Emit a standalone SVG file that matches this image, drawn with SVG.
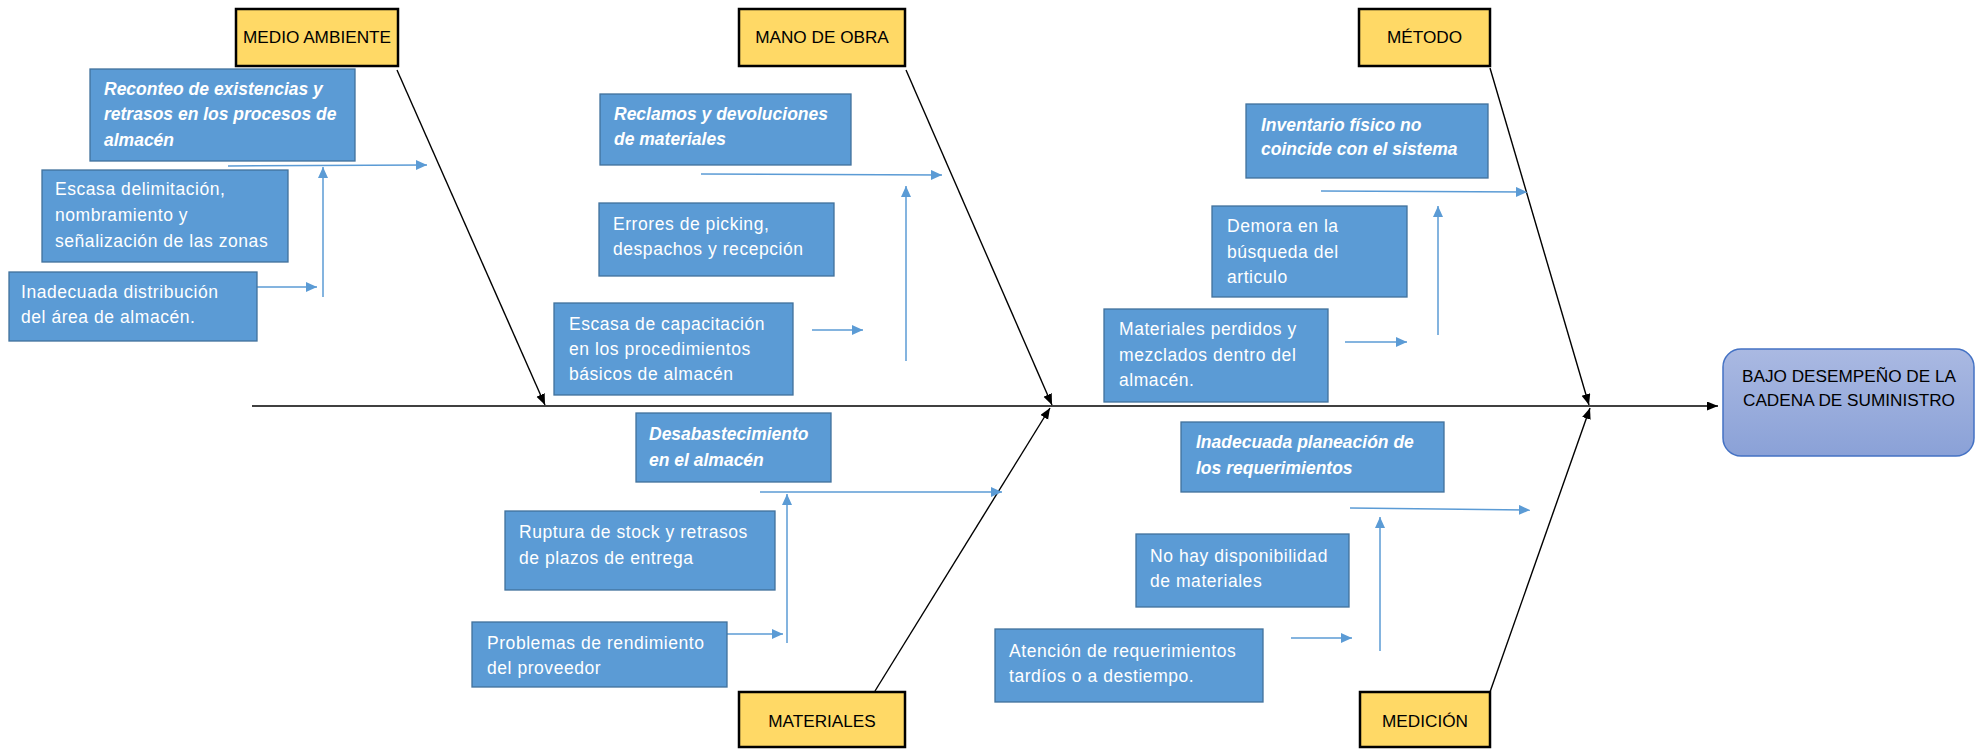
<svg xmlns="http://www.w3.org/2000/svg" width="1977" height="749" viewBox="0 0 1977 749">
<style>
.bx{fill:#5B9BD5;stroke:#41719C;stroke-width:1.3}
.cat{fill:#FFD966;stroke:#000;stroke-width:2.5}
.t{font-family:"Liberation Sans",Arial,sans-serif;font-size:17.5px;fill:#fff;letter-spacing:0.55px}
.bi{font-family:"Liberation Sans",Arial,sans-serif;font-size:17.5px;fill:#fff;font-weight:bold;font-style:italic}
.ct{font-family:"Liberation Sans",Arial,sans-serif;font-size:17.2px;fill:#000;text-anchor:middle}
.bl{stroke:#5B9BD5;stroke-width:1.5;fill:none;marker-end:url(#ab)}
.bk{stroke:#000;stroke-width:1.4;fill:none;marker-end:url(#ak)}
</style>
<defs>
<marker id="ab" markerUnits="userSpaceOnUse" markerWidth="12" markerHeight="11" refX="11" refY="5" orient="auto"><path d="M0,0 L11,5 L0,10 z" fill="#5B9BD5"/></marker>
<marker id="ak" markerUnits="userSpaceOnUse" markerWidth="12" markerHeight="10" refX="11" refY="4.5" orient="auto"><path d="M0,0 L11,4.5 L0,9 z" fill="#000"/></marker>
<linearGradient id="g" x1="0" y1="0" x2="0" y2="1"><stop offset="0" stop-color="#AAB9E2"/><stop offset="1" stop-color="#8AA1D7"/></linearGradient>
</defs>
<rect width="1977" height="749" fill="#fff"/>
<g id="connectors">
<line class="bk" x1="252" y1="406" x2="1718" y2="406" stroke-width="1.8"/>
<line class="bk" x1="397" y1="70" x2="545" y2="405"/>
<line class="bk" x1="906" y1="70" x2="1052" y2="405"/>
<line class="bk" x1="1490" y1="68" x2="1589" y2="405"/>
<line class="bk" x1="875" y1="691" x2="1050" y2="408"/>
<line class="bk" x1="1490" y1="692" x2="1590" y2="408"/>
<line class="bl" x1="228" y1="166" x2="427" y2="165"/>
<line class="bl" x1="323" y1="297" x2="323" y2="167"/>
<line class="bl" x1="257" y1="287" x2="317" y2="287"/>
<line class="bl" x1="701" y1="174" x2="942" y2="175"/>
<line class="bl" x1="906" y1="361" x2="906" y2="186"/>
<line class="bl" x1="812" y1="330" x2="863" y2="330"/>
<line class="bl" x1="1321" y1="191" x2="1527" y2="192"/>
<line class="bl" x1="1438" y1="335" x2="1438" y2="206"/>
<line class="bl" x1="1345" y1="342" x2="1407" y2="342"/>
<line class="bl" x1="760" y1="492" x2="1002" y2="492"/>
<line class="bl" x1="787" y1="643" x2="787" y2="494"/>
<line class="bl" x1="727" y1="634" x2="783" y2="634"/>
<line class="bl" x1="1350" y1="508" x2="1530" y2="510"/>
<line class="bl" x1="1380" y1="651" x2="1380" y2="517"/>
<line class="bl" x1="1291" y1="638" x2="1352" y2="638"/>
</g>
<g id="medio-ambiente"><rect class="cat" x="236" y="9" width="162" height="57"/><text class="ct" x="317" y="43">MEDIO AMBIENTE</text></g>
<g id="mano-de-obra"><rect class="cat" x="739" y="9" width="166" height="57"/><text class="ct" x="822" y="43">MANO DE OBRA</text></g>
<g id="metodo"><rect class="cat" x="1359" y="9" width="131" height="57"/><text class="ct" x="1424.5" y="43">MÉTODO</text></g>
<g id="materiales"><rect class="cat" x="739" y="692" width="166" height="55"/><text class="ct" x="822" y="727">MATERIALES</text></g>
<g id="medicion"><rect class="cat" x="1360" y="692" width="130" height="55"/><text class="ct" x="1425" y="727">MEDICIÓN</text></g>
<g id="efecto"><rect x="1723" y="349" width="251" height="107" rx="18" fill="url(#g)" stroke="#4472C4" stroke-width="1.5"/><text class="ct" x="1849" y="382">BAJO DESEMPEÑO DE LA</text><text class="ct" x="1849" y="406">CADENA DE SUMINISTRO</text></g>
<g id="reconteo"><rect class="bx" x="90" y="69" width="265" height="92"/><text class="bi" x="104" y="95">Reconteo de existencias y</text><text class="bi" x="104" y="120">retrasos en los procesos de</text><text class="bi" x="104" y="146">almacén</text></g>
<g id="escasa-delimitacion"><rect class="bx" x="42" y="170" width="246" height="92"/><text class="t" x="55" y="195">Escasa delimitación,</text><text class="t" x="55" y="221">nombramiento y</text><text class="t" x="55" y="247">señalización de las zonas</text></g>
<g id="inadecuada-distribucion"><rect class="bx" x="9" y="272" width="248" height="69"/><text class="t" x="21" y="298">Inadecuada distribución</text><text class="t" x="21" y="323">del área de almacén.</text></g>
<g id="reclamos"><rect class="bx" x="600" y="94" width="251" height="71"/><text class="bi" x="614" y="120">Reclamos y devoluciones</text><text class="bi" x="614" y="145">de materiales</text></g>
<g id="errores"><rect class="bx" x="599" y="203" width="235" height="73"/><text class="t" x="613" y="230">Errores de picking,</text><text class="t" x="613" y="255">despachos y recepción</text></g>
<g id="escasa-capacitacion"><rect class="bx" x="554" y="303" width="239" height="92"/><text class="t" x="569" y="330">Escasa de capacitación</text><text class="t" x="569" y="355">en los procedimientos</text><text class="t" x="569" y="380">básicos de almacén</text></g>
<g id="inventario"><rect class="bx" x="1246" y="104" width="242" height="74"/><text class="bi" x="1261" y="131">Inventario físico no</text><text class="bi" x="1261" y="155">coincide con el sistema</text></g>
<g id="demora"><rect class="bx" x="1212" y="206" width="195" height="91"/><text class="t" x="1227" y="232">Demora en la</text><text class="t" x="1227" y="258">búsqueda del</text><text class="t" x="1227" y="283">articulo</text></g>
<g id="materiales-perdidos"><rect class="bx" x="1104" y="309" width="224" height="93"/><text class="t" x="1119" y="335">Materiales perdidos y</text><text class="t" x="1119" y="361">mezclados dentro del</text><text class="t" x="1119" y="386">almacén.</text></g>
<g id="desabastecimiento"><rect class="bx" x="636" y="413" width="195" height="69"/><text class="bi" x="649" y="440">Desabastecimiento</text><text class="bi" x="649" y="466">en el almacén</text></g>
<g id="ruptura"><rect class="bx" x="505" y="511" width="270" height="79"/><text class="t" x="519" y="538">Ruptura de stock y retrasos</text><text class="t" x="519" y="564">de plazos de entrega</text></g>
<g id="problemas"><rect class="bx" x="472" y="622" width="255" height="65"/><text class="t" x="487" y="649">Problemas de rendimiento</text><text class="t" x="487" y="674">del proveedor</text></g>
<g id="planeacion"><rect class="bx" x="1181" y="422" width="263" height="70"/><text class="bi" x="1196" y="448">Inadecuada planeación de</text><text class="bi" x="1196" y="474">los requerimientos</text></g>
<g id="disponibilidad"><rect class="bx" x="1136" y="534" width="213" height="73"/><text class="t" x="1150" y="562">No hay disponibilidad</text><text class="t" x="1150" y="587">de materiales</text></g>
<g id="atencion"><rect class="bx" x="995" y="629" width="268" height="73"/><text class="t" x="1009" y="657">Atención de requerimientos</text><text class="t" x="1009" y="682">tardíos o a destiempo.</text></g>
</svg>
